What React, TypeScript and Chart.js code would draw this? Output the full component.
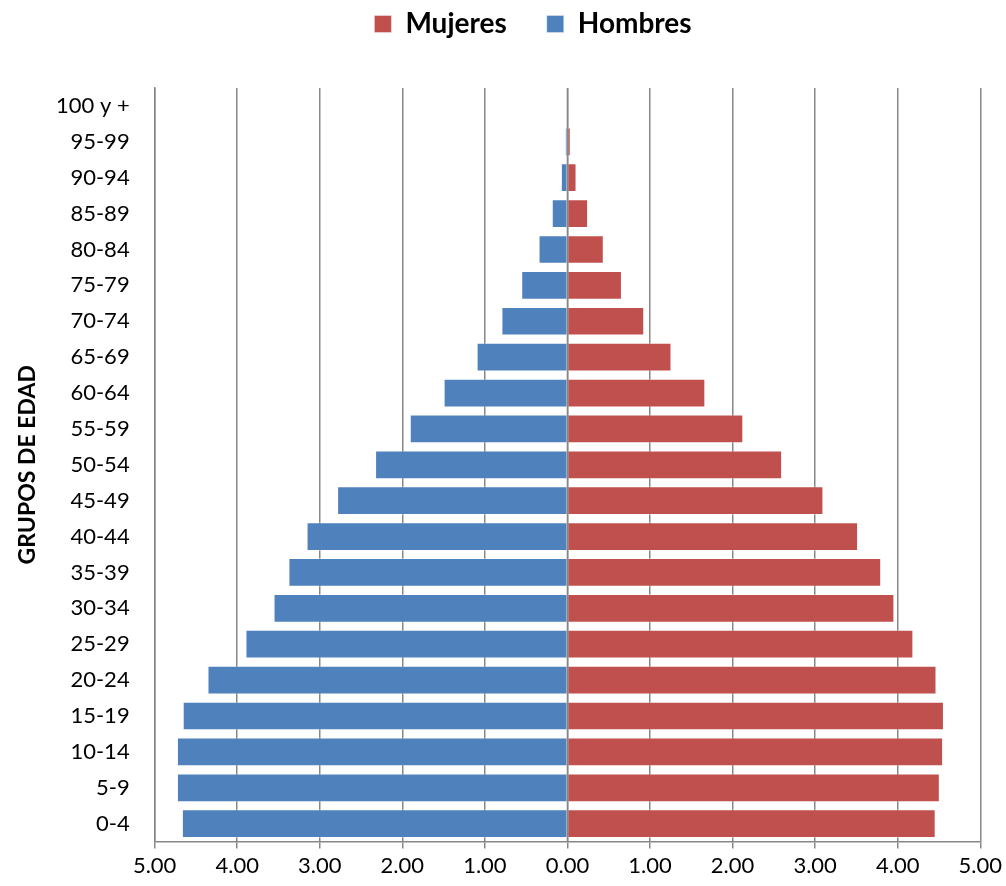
import React, { useEffect, useRef } from "react";
import { Chart, registerables } from "chart.js";

Chart.register(...registerables);

const categories = [
  "0-4", "5-9", "10-14", "15-19", "20-24", "25-29", "30-34", "35-39", "40-44",
  "45-49", "50-54", "55-59", "60-64", "65-69", "70-74", "75-79", "80-84",
  "85-89", "90-94", "95-99", "100 y +",
];

const hombres = [
  4.67, 4.73, 4.73, 4.66, 4.36, 3.9, 3.56, 3.38, 3.16, 2.79, 2.33, 1.91, 1.5,
  1.1, 0.8, 0.56, 0.35, 0.19, 0.08, 0.03, 0.01,
];

const mujeres = [
  4.46, 4.51, 4.55, 4.56, 4.47, 4.19, 3.96, 3.8, 3.52, 3.1, 2.6, 2.13, 1.67,
  1.26, 0.93, 0.66, 0.44, 0.25, 0.11, 0.04, 0.01,
];

const xTickLabels = [
  "5.00", "4.00", "3.00", "2.00", "1.00", "0.00", "1.00", "2.00", "3.00", "4.00", "5.00",
];

const GRID = "#878787";
const FONT = "Lato";

const zeroLinePlugin = {
  id: "zeroLine",
  afterDatasetsDraw(chart: any) {
    const { ctx, chartArea, scales } = chart;
    const x = scales.x.getPixelForValue(0);
    ctx.save();
    ctx.strokeStyle = GRID;
    ctx.lineWidth = 1.5;
    ctx.beginPath();
    ctx.moveTo(x, chartArea.top);
    ctx.lineTo(x, chartArea.bottom);
    ctx.stroke();
    ctx.restore();
  },
};

const legendShiftPlugin = {
  id: "legendShift",
  afterLayout(chart: any) {
    const lg = chart.legend;
    if (lg) {
      lg.left += 33;
      lg.right += 33;
      lg.top -= 40;
      lg.bottom -= 40;
    }
  },
};

export default function App() {
  const ref = useRef<HTMLCanvasElement | null>(null);

  useEffect(() => {
    if (!ref.current) return;
    const chart = new Chart(ref.current, {
      type: "bar",
      data: {
        labels: categories,
        datasets: [
          {
            label: "Mujeres",
            data: mujeres,
            backgroundColor: "#C0504D",
            borderColor: "rgba(255,255,255,0.35)",
            borderWidth: 1,
            barPercentage: 0.8,
            categoryPercentage: 1,
          },
          {
            label: "Hombres",
            data: hombres.map((v) => -v),
            backgroundColor: "#4F81BD",
            borderColor: "rgba(255,255,255,0.35)",
            borderWidth: 1,
            barPercentage: 0.8,
            categoryPercentage: 1,
          },
        ],
      },
      options: {
        indexAxis: "y",
        animation: false,
        responsive: true,
        maintainAspectRatio: false,
        layout: { padding: { left: 9, right: 15, top: 10, bottom: 3 } },
        plugins: {
          tooltip: { enabled: false },
          legend: {
            position: "top",
            labels: {
              boxWidth: 17,
              boxHeight: 17,
              padding: 40,
              color: "#000",
              font: { family: FONT, size: 28, weight: "bold", lineHeight: 1.1 },
            },
          },
        },
        scales: {
          x: {
            stacked: true,
            min: -5,
            max: 5,
            ticks: {
              stepSize: 1,
              color: "#000",
              padding: 4,
              font: { family: FONT, size: 22 },
              callback: (_v: any, i: number) => xTickLabels[i],
            },
            grid: {
              color: GRID,
              lineWidth: 1.5,
              tickLength: 7,
              tickColor: GRID,
            },
            border: { display: true, color: GRID, width: 1.5 },
          },
          y: {
            stacked: true,
            reverse: true,
            ticks: {
              color: "#000",
              padding: 17,
              font: { family: FONT, size: 22 },
            },
            grid: { display: false },
            border: { display: true, color: GRID, width: 1.5 },
            title: {
              display: true,
              text: "GRUPOS DE EDAD",
              color: "#000",
              font: { family: FONT, size: 23, weight: "bold", lineHeight: 1 },
              padding: { top: 7, bottom: 0 },
            },
          },
        },
      },
      plugins: [zeroLinePlugin, legendShiftPlugin],
    });
    return () => chart.destroy();
  }, []);

  return (
    <div style={{ position: "absolute", left: 0, top: 0, width: 1006, height: 886 }}>
      <canvas ref={ref} />
    </div>
  );
}
